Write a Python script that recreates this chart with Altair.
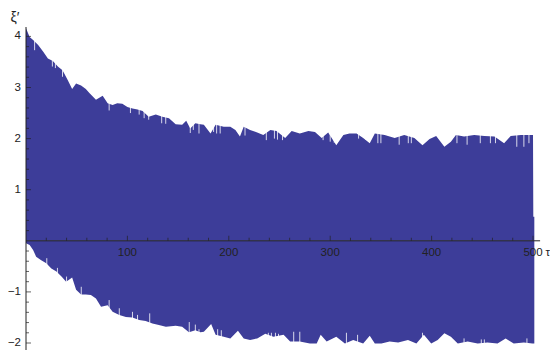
import altair as alt
import pandas as pd

# Upper envelope of the oscillation (tau, xi')
upper_tau = [0, 3.6, 7, 12, 17, 21.6, 26.5, 31.4, 36, 41, 45.5, 49.4, 54.3, 59, 62.5, 69, 75.6, 80.5,
             85.4, 90, 95, 100, 105, 110, 115, 121, 128, 134.5, 141, 147.6, 154, 158, 162, 167, 172,
             175.4, 182, 187, 195, 201.5, 206.5, 211, 214.7, 221, 228, 234, 241, 247, 255.6, 262, 270,
             278.5, 285, 291.6, 298, 306, 313, 319, 326, 332.5, 339, 344, 353.7, 363.6, 373, 383, 391,
             398, 404.5, 412.6, 419, 424, 432, 442, 452, 462, 471.5, 478, 488, 498, 500, 500.3, 501.3]
upper_val = [4.16, 3.99, 3.93, 3.83, 3.70, 3.57, 3.52, 3.41, 3.34, 3.15, 2.97, 3.08, 3.04, 2.97, 2.89,
             2.76, 2.84, 2.69, 2.66, 2.69, 2.68, 2.62, 2.59, 2.57, 2.54, 2.43, 2.47, 2.43, 2.40, 2.28,
             2.27, 2.35, 2.20, 2.30, 2.28, 2.27, 2.10, 2.27, 2.23, 2.23, 2.17, 2.04, 2.23, 2.17, 2.12,
             2.07, 2.17, 2.15, 2.01, 2.15, 2.10, 2.15, 2.13, 2.01, 2.12, 1.87, 2.07, 2.10, 2.10, 2.01,
             1.91, 2.10, 2.07, 2.01, 2.07, 2.01, 1.87, 1.99, 2.05, 1.84, 1.94, 2.07, 2.04, 2.07, 2.05,
             2.04, 1.91, 2.05, 2.07, 2.07, 2.07, 0.47, 0.47]

# Lower envelope
lower_tau = [0, 3.6, 7, 10, 15, 20, 25, 30, 35, 39.6, 45.5, 49.4, 54.3, 59, 64, 69, 74, 80.5, 85.4, 92,
             98.5, 105, 111.6, 118, 124.7, 131, 138, 147.6, 154, 160.7, 167, 172, 175.4, 182.6, 187,
             195, 201.5, 209, 214.7, 221, 228, 236, 244, 254, 260.5, 270, 280, 286.7, 290.6, 296.5,
             306, 314.5, 322.7, 332.5, 339, 344, 350.5, 358.6, 367, 376.7, 385, 392.4, 399.6, 406,
             412.6, 419, 425.8, 435.6, 445.4, 455, 465, 473, 481, 491, 499.4, 501.3]
lower_val = [-0.05, -0.08, -0.18, -0.31, -0.38, -0.44, -0.54, -0.60, -0.70, -0.80, -0.72, -0.96, -1.05,
             -1.05, -1.06, -1.13, -1.29, -1.26, -1.39, -1.45, -1.49, -1.50, -1.55, -1.57, -1.62, -1.65,
             -1.68, -1.66, -1.68, -1.79, -1.75, -1.79, -1.78, -1.63, -1.84, -1.88, -1.91, -1.76, -1.91,
             -1.94, -1.91, -1.82, -1.88, -1.84, -1.97, -1.97, -2.01, -2.01, -1.84, -1.97, -1.88, -2.01,
             -1.94, -2.01, -1.86, -2.01, -2.01, -1.97, -1.99, -1.94, -2.01, -1.84, -2.01, -1.94, -1.81,
             -1.88, -2.01, -1.97, -2.01, -1.99, -2.01, -1.91, -2.01, -1.99, -2.01, -2.01]

# Thin notches (spikes) in the envelopes
unotch_tau = [8.5, 26, 29, 36, 82, 103, 111.6, 116.5, 121, 133.8, 137.8, 162, 165, 170.6, 185, 188,
              191.5, 216, 237, 245, 248, 253, 293, 300, 304, 328, 335, 347, 350, 368, 377, 380, 425,
              435, 448, 458, 463, 484, 491, 496]
unotch_val = [3.73, 3.41, 3.38, 3.21, 2.55, 2.50, 2.47, 2.40, 2.37, 2.30, 2.29, 2.11, 2.17, 2.10, 2.13,
              2.10, 2.10, 2.06, 1.97, 2.00, 1.98, 1.97, 1.97, 1.94, 1.92, 2.00, 1.98, 1.91, 1.91, 1.88,
              1.91, 1.91, 1.91, 1.88, 1.91, 1.91, 1.91, 1.84, 1.84, 1.91]
lnotch_tau = [20.5, 31, 40, 54.5, 82, 92, 105, 110, 122, 161, 167, 170.6, 189, 192.6, 239, 242, 246,
              249, 264, 270, 316, 327, 391, 432, 449, 452, 494]
lnotch_val = [-0.34, -0.53, -0.70, -0.90, -1.16, -1.32, -1.39, -1.45, -1.42, -1.59, -1.64, -1.73, -1.73,
              -1.75, -1.80, -1.80, -1.80, -1.82, -1.78, -1.78, -1.80, -1.84, -1.80, -1.91, -1.93, -1.93,
              -1.91]

x_major = [100, 200, 300, 400, 500]
x_minor = [20, 40, 60, 80, 120, 140, 160, 180, 220, 240, 260, 280, 320, 340, 360, 380, 420, 440,
           460, 480]
y_major = [-2, -1, 1, 2, 3, 4]
y_major_labels = ["\u22122", "\u22121", "1", "2", "3", "4"]
y_minor = [-2.2, -1.8, -1.6, -1.4, -1.2, -0.8, -0.6, -0.4, -0.2, 0.2, 0.4, 0.6, 0.8, 1.2, 1.4, 1.6,
           1.8, 2.2, 2.4, 2.6, 2.8, 3.2, 3.4, 3.6, 3.8]

X_MAX = 513.8
X_AXIS_END = 507.0
Y_MIN, Y_MAX = -2.137, 4.184
FILL = "#3d3d99"
AX = "#222222"
FONT = "Liberation Sans"

xs = alt.Scale(domain=[0, X_MAX], nice=False, zero=False)
ys = alt.Scale(domain=[Y_MIN, Y_MAX], nice=False, zero=False)

up_df = pd.DataFrame({"tau": upper_tau, "v": upper_val, "z": 0.0})
lo_df = pd.DataFrame({"tau": lower_tau, "v": lower_val, "z": 0.0})
un_df = pd.DataFrame({"tau": unotch_tau, "v": unotch_val, "e": Y_MAX})
ln_df = pd.DataFrame({"tau": lnotch_tau, "v": lnotch_val, "e": Y_MIN})
xmaj_df = pd.DataFrame({"t": x_major, "z": 0.0, "lab": [str(v) for v in x_major]})
xmin_df = pd.DataFrame({"t": x_minor, "z": 0.0})
ymaj_df = pd.DataFrame({"t": y_major, "z": 0.0, "lab": y_major_labels})
ymin_df = pd.DataFrame({"t": y_minor, "z": 0.0})
xaxis_df = pd.DataFrame({"x0": [0.0], "x1": [X_AXIS_END], "y": [0.0]})
yaxis_df = pd.DataFrame({"x": [0.0], "y0": [Y_MIN], "y1": [Y_MAX]})
tau_df = pd.DataFrame({"x": [X_MAX], "y": [0.0], "lab": ["\u03c4"]})
xi_df = pd.DataFrame({"x": [0.0], "y": [Y_MAX], "lab": ["\u03be\u2032"]})


def X(f):
    return alt.X(f, type="quantitative", scale=xs, axis=None)


def Y(f):
    return alt.Y(f, type="quantitative", scale=ys, axis=None)


upper = alt.Chart(up_df).mark_area(color=FILL, opacity=1, interpolate="linear").encode(
    x=X("tau"), y=Y("v"), y2="z"
)
lower = alt.Chart(lo_df).mark_area(color=FILL, opacity=1, interpolate="linear").encode(
    x=X("tau"), y=Y("v"), y2="z"
)
unotch = alt.Chart(un_df).mark_rule(color="white", strokeWidth=1, opacity=0.8).encode(
    x=X("tau"), y=Y("v"), y2="e"
)
lnotch = alt.Chart(ln_df).mark_rule(color="white", strokeWidth=1, opacity=0.8).encode(
    x=X("tau"), y=Y("v"), y2="e"
)

x_axis = alt.Chart(xaxis_df).mark_rule(color=AX, strokeWidth=1).encode(
    x=X("x0"), x2="x1", y=Y("y")
)
y_axis = alt.Chart(yaxis_df).mark_rule(color=AX, strokeWidth=1).encode(
    x=X("x"), y=Y("y0"), y2="y1"
)

xt_major = alt.Chart(xmaj_df).mark_tick(color=AX, orient="vertical", size=5, thickness=1, yOffset=-2.5).encode(
    x=X("t"), y=Y("z")
)
xt_minor = alt.Chart(xmin_df).mark_tick(color=AX, orient="vertical", size=3, thickness=1, yOffset=-1.5).encode(
    x=X("t"), y=Y("z")
)
yt_major = alt.Chart(ymaj_df).mark_tick(color=AX, orient="horizontal", size=5, thickness=1, xOffset=2.5).encode(
    y=Y("t"), x=X("z")
)
yt_minor = alt.Chart(ymin_df).mark_tick(color=AX, orient="horizontal", size=3, thickness=1, xOffset=1.5).encode(
    y=Y("t"), x=X("z")
)

x_labels = alt.Chart(xmaj_df).mark_text(font=FONT, fontSize=11.5, color=AX, baseline="middle",
                                         align="center", dy=12).encode(
    x=X("t"), y=Y("z"), text="lab:N"
)
y_labels = alt.Chart(ymaj_df).mark_text(font=FONT, fontSize=11.5, color=AX, baseline="middle",
                                         align="right", dx=-5).encode(
    y=Y("t"), x=X("z"), text="lab:N"
)
tau_label = alt.Chart(tau_df).mark_text(font=FONT, fontSize=11.5, color=AX, baseline="middle",
                                         align="right", dx=3, dy=12).encode(
    x=X("x"), y=Y("y"), text="lab:N"
)
xi_label = alt.Chart(xi_df).mark_text(font=FONT, fontSize=14, color=AX, baseline="middle",
                                       align="center", dx=-11, dy=-9).encode(
    x=X("x"), y=Y("y"), text="lab:N"
)

chart = alt.layer(
    upper, lower, unotch, lnotch, x_axis, y_axis,
    xt_major, xt_minor, yt_major, yt_minor,
    x_labels, y_labels, tau_label, xi_label,
).properties(
    width=521, height=323,
    padding={"left": 18, "top": 19, "right": 3, "bottom": 0},
    autosize=alt.AutoSizeParams(type="none"),
).configure_view(stroke=None)

chart.save("out.html", embed_options={"renderer": "svg", "actions": False})
